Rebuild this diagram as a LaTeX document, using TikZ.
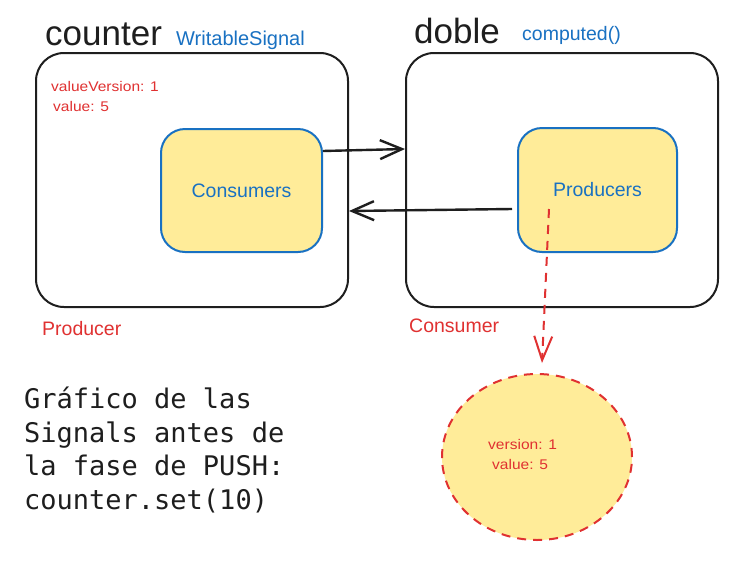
\documentclass[tikz,border=0pt]{standalone}
\usepackage{fontspec}
\setmainfont{Liberation Sans}
\newfontfamily\smallfnt[FakeStretch=1.11]{Liberation Sans}
\newfontfamily\monofnt{DejaVu Sans Mono}
\usetikzlibrary{arrows.meta,shapes.geometric}
\definecolor{exred}{HTML}{E03131}
\definecolor{exblue}{HTML}{1971C2}
\definecolor{exyellow}{HTML}{FFEC99}
\definecolor{exblack}{HTML}{1E1E1E}
\tikzset{
  outerbox/.style={draw=exblack, line width=2pt, rounded corners=28pt,
    minimum width=312pt, minimum height=254pt, inner sep=0pt},
  innerbox/.style={draw=exblue, fill=exyellow, line width=2pt, rounded corners=24pt,
    inner sep=0pt, text=exblue, font=\fontsize{19.5}{22}\selectfont},
  title/.style={anchor=base west, inner sep=0pt, text=exblack, font=\fontsize{35}{40}\selectfont},
  typelbl/.style={anchor=base west, inner sep=0pt, text=exblue},
  rolelbl/.style={anchor=base west, inner sep=0pt, text=exred, font=\fontsize{19.5}{22}\selectfont},
  smalltxt/.style={anchor=base west, inner sep=0pt, text=exred, font=\smallfnt\fontsize{14}{16}\selectfont},
  blackarrow/.style={draw=exblack, line width=2.4pt, -{Straight Barb[length=22pt,width=19pt,line width=2.4pt]}},
  redarrow/.style={draw=exred, line width=2pt, dash pattern=on 9pt off 7pt,
    -{Straight Barb[length=24pt,width=18pt,line width=2pt]}},
}
\begin{document}
\begin{tikzpicture}[x=1pt,y=-1pt]
\useasboundingbox (0,0) rectangle (741,560);
\fill[white] (0,0) rectangle (741,560);

% big boxes
\node[outerbox] (cbox) at (192,180) {};
\node[outerbox] (dbox) at (562,180) {};

% titles
\node[title] (ctitle) at (45,45) {counter};
\node[typelbl, font=\fontsize{20}{24}\selectfont] (ctype) at (176,45) {WritableSignal};
\node[title] (dtitle) at (414,43) {doble};
\node[typelbl, font=\fontsize{19.5}{22}\selectfont] (dtype) at (522,40) {computed()};

% state text of counter
\node[smalltxt] (cver) at (51,91) {valueVersion: 1};
\node[smalltxt] (cval) at (53,111.5) {value: 5};

% inner boxes
\node[innerbox, minimum width=161pt, minimum height=123pt] (cons) at (241.5,190.5) {Consumers};
\node[innerbox, minimum width=159pt, minimum height=124pt] (prod) at (597.5,190) {Producers};

% role labels
\node[rolelbl] (plbl) at (42,335) {Producer};
\node[rolelbl] (clbl) at (409,332) {Consumer};

% arrows between boxes
\draw[blackarrow] ([yshift=39.5pt]cons.east) -- ([yshift=31pt]dbox.west);
\draw[blackarrow] ([xshift=-5pt,yshift=-19pt]prod.west) -- ([yshift=-31pt]cbox.east);

% ellipse node
\node[ellipse, draw=exred, fill=exyellow, line width=2pt, dash pattern=on 9pt off 7pt,
      minimum width=190pt, minimum height=166pt, inner sep=0pt] (ell) at (537,457) {};
\node[smalltxt] (ever) at (488,449) {version: 1};
\node[smalltxt] (eval) at (492,469) {value: 5};

% red dashed arrow
\draw[redarrow] ([xshift=-48.5pt,yshift=-19pt]prod.center) -- ([xshift=5pt,yshift=10pt]ell.north);

% caption
\node[anchor=north west, inner sep=0pt, align=left, text=exblack,
      font=\monofnt\fontsize{27}{33.5}\selectfont] (caption) at (24,387)
  {Gráfico de las\\Signals antes de\\la fase de PUSH:\\counter.set(10)};
\end{tikzpicture}
\end{document}
